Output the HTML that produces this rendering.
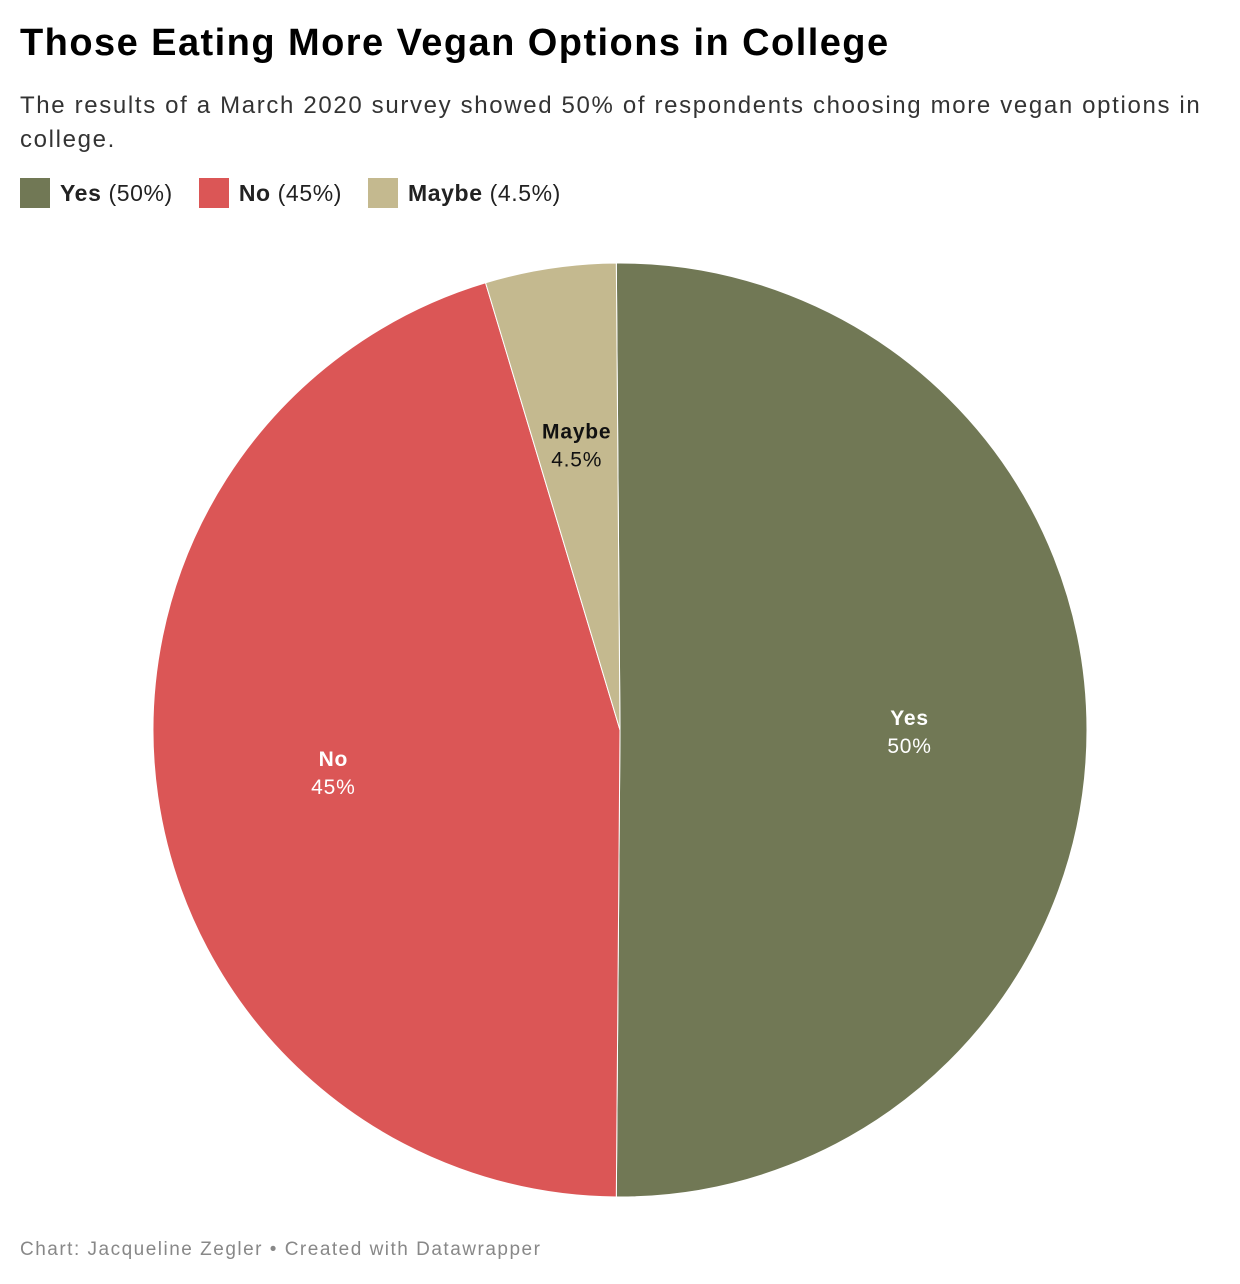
<!DOCTYPE html>
<html><head><meta charset="utf-8"><style>
body{margin:0;background:#fff;font-family:"Liberation Sans",sans-serif;width:1240px;height:1284px;overflow:hidden;position:relative}
#title{position:absolute;left:20px;top:22px;font-size:38px;font-weight:bold;color:#000;letter-spacing:1.45px;white-space:nowrap}
#sub{position:absolute;left:20px;top:89px;font-size:24px;color:#333;line-height:34px;width:1210px;letter-spacing:1.65px}
#legend{position:absolute;left:20px;top:178px;font-size:23px;color:#222;display:flex;gap:26px;letter-spacing:0.6px}
.li{display:flex;align-items:center}
.sw{width:30px;height:30px;margin-right:10px}
#foot{position:absolute;left:20px;top:1239px;font-size:19px;color:#888;letter-spacing:1.5px}
svg{position:absolute;left:0;top:0}
</style></head><body>
<div id="title">Those Eating More Vegan Options in College</div>
<div id="sub">The results of a March 2020 survey showed 50% of respondents choosing more vegan options in college.</div>
<div id="legend">
<div class="li"><div class="sw" style="background:#717855"></div><b>Yes</b>&nbsp;(50%)</div>
<div class="li"><div class="sw" style="background:#db5656"></div><b>No</b>&nbsp;(45%)</div>
<div class="li"><div class="sw" style="background:#c4b98f"></div><b>Maybe</b>&nbsp;(4.5%)</div>
</div>
<svg id="chart" width="1240" height="1284"></svg>
<div id="foot">Chart: Jacqueline Zegler • Created with Datawrapper</div>
<script>
const categories=["Yes","No","Maybe"];
const values=[50,45,4.5];
const labels=["50%","45%","4.5%"];
const colors=["#717855","#db5656","#c4b98f"];
const textColors=["#fff","#fff","#111"];
const svg=document.getElementById('chart');
const NS="http://www.w3.org/2000/svg";
const cx=620,cy=730,R=467;
const total=values.reduce((a,b)=>a+b,0);
function pt(a,r){return [cx+r*Math.sin(a),cy-r*Math.cos(a)];}
let a0=-(values[0]/total*2*Math.PI-Math.PI)/2;
values.forEach((v,i)=>{
  const a1=a0+v/total*2*Math.PI;
  const p0=pt(a0,R),p1=pt(a1,R);
  const large=(a1-a0)>Math.PI?1:0;
  const path=document.createElementNS(NS,'path');
  path.setAttribute('d',`M${cx},${cy}L${p0[0]},${p0[1]}A${R},${R} 0 ${large} 1 ${p1[0]},${p1[1]}Z`);
  path.setAttribute('fill',colors[i]);
  path.setAttribute('stroke','#fff');
  path.setAttribute('stroke-width','1');
  
  
  svg.appendChild(path);
  const am=(a0+a1)/2;
  const lp=pt(am,R*0.62);
  const t=document.createElementNS(NS,'text');
  t.setAttribute('x',lp[0]);t.setAttribute('y',lp[1]-5);
  t.setAttribute('text-anchor','middle');
  t.setAttribute('font-size','21');
  t.setAttribute('font-weight','bold');
  t.setAttribute('letter-spacing','0.8');
  t.setAttribute('fill',textColors[i]);
  
  
  t.textContent=categories[i];
  svg.appendChild(t);
  const t2=document.createElementNS(NS,'text');
  t2.setAttribute('x',lp[0]);t2.setAttribute('y',lp[1]+23);
  t2.setAttribute('text-anchor','middle');
  t2.setAttribute('font-size','21');
  t2.setAttribute('letter-spacing','0.8');
  t2.setAttribute('fill',textColors[i]);
  
  
  t2.textContent=labels[i];
  svg.appendChild(t2);
  a0=a1;
});
</script>
</body></html>
